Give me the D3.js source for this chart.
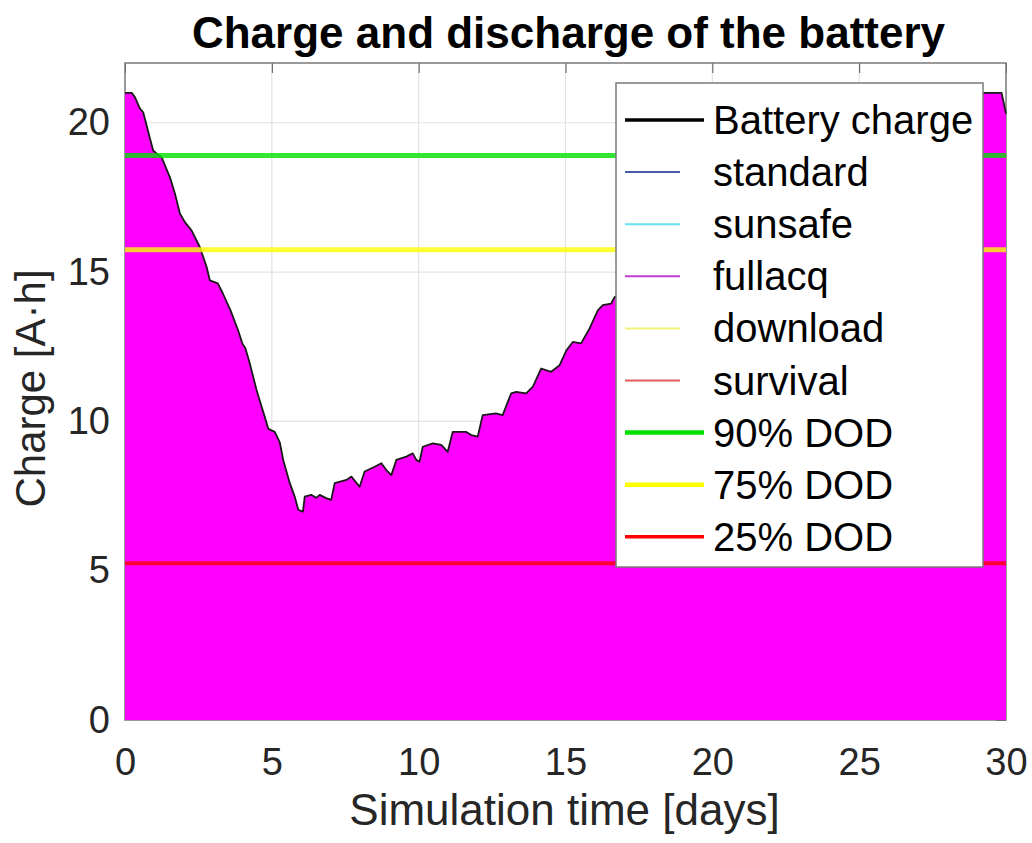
<!DOCTYPE html>
<html>
<head>
<meta charset="utf-8">
<script src="https://cdn.jsdelivr.net/npm/d3@7"></script>
<style>
  body { margin: 0; background: #fff; }
  svg text { font-family: "Liberation Sans", Arial, Helvetica, sans-serif; }
</style>
</head>
<body>
<svg width="1032" height="843"></svg>
<script>
// battery charge (days, A·h)
var days = [0, 0.23, 0.34, 0.51, 0.62, 0.74, 0.85, 0.96, 1.1, 1.25, 1.36, 1.53, 1.7, 1.87, 2.04, 2.27,
  2.55, 2.78, 2.89, 3.16, 3.33, 3.6, 3.85, 4.0, 4.1, 4.25, 4.48, 4.65, 4.76, 4.88, 5.1, 5.27, 5.39,
  5.61, 5.78, 5.9, 6.06, 6.12, 6.34, 6.51, 6.63, 6.85, 7.02, 7.14, 7.54, 7.71, 7.99, 8.16, 8.5, 8.73,
  8.9, 9.07, 9.24, 9.58, 9.8, 9.92, 10.03, 10.14, 10.48, 10.77, 10.99, 11.16, 11.61, 11.79, 12.01,
  12.18, 12.63, 12.86, 13.15, 13.32, 13.66, 13.89, 14.17, 14.51, 14.8, 15.03, 15.25, 15.53, 15.82,
  16.1, 16.27, 16.55, 16.67, 17.0, 17.5, 18.0, 18.5, 19.0, 19.5, 20.0, 20.5, 21.0, 21.5, 22.0, 22.5,
  23.0, 23.5, 24.0, 24.5, 25.0, 29.85, 30.0];
var charge = [21.0, 21.0, 20.85, 20.47, 20.35, 19.9, 19.47, 19.07, 18.95, 18.84, 18.57, 18.17, 17.63,
  16.96, 16.67, 16.39, 15.83, 15.17, 14.72, 14.62, 14.29, 13.7, 13.05, 12.6, 12.45, 11.94, 11.05, 10.5,
  10.15, 9.75, 9.65, 9.3, 8.7, 7.94, 7.48, 7.04, 6.98, 7.48, 7.54, 7.44, 7.54, 7.43, 7.37, 7.93, 8.04,
  8.15, 7.81, 8.32, 8.48, 8.6, 8.37, 8.2, 8.71, 8.82, 8.93, 8.71, 8.65, 9.15, 9.26, 9.21, 8.98, 9.65,
  9.65, 9.54, 9.49, 10.21, 10.27, 10.21, 10.94, 10.99, 10.94, 11.16, 11.77, 11.66, 11.88, 12.38, 12.66,
  12.61, 13.11, 13.72, 13.89, 13.94, 14.16, 14.3, 14.6, 15.1, 15.3, 15.9, 16.2, 16.7, 17.1, 17.6, 17.9,
  18.5, 18.9, 19.4, 19.8, 20.3, 20.6, 21.0, 21.0, 20.3];

var dodNames = ["90% DOD", "75% DOD", "25% DOD"];
var dodLevels = [18.9, 15.75, 5.25];
var modeNames = ["standard", "sunsafe", "fullacq", "download", "survival"];
var xTicks = [0, 5, 10, 15, 20, 25, 30];
var yTicks = [0, 5, 10, 15, 20];

var dodColors = ["#00e000", "#ffff00", "#ff0000"],
    dodWidths = [5, 5, 4],
    modeColors = ["#4a5aa8", "#66e3ef", "#c23bd4", "#f2f27a", "#e35a5a"];

var svg = d3.select("svg"),
    plotLeft = 125, plotRight = 1006, plotTop = 63, plotBottom = 720,
    textColor = "#262626";

var x = d3.scaleLinear().domain([0, 30]).range([plotLeft, plotRight]),
    y = d3.scaleLinear().domain([0, 22]).range([plotBottom, plotTop]);

var series = days.map(function(d, i) { return [d, charge[i]]; });

// grid
svg.append("g").selectAll("line")
    .data(xTicks.slice(1, -1)).enter().append("line")
    .attr("x1", x).attr("x2", x).attr("y1", plotTop).attr("y2", plotBottom)
    .attr("stroke", "#e3e3e3").attr("stroke-width", 1.2);
svg.append("g").selectAll("line")
    .data(yTicks.slice(1)).enter().append("line")
    .attr("x1", plotLeft).attr("x2", plotRight).attr("y1", y).attr("y2", y)
    .attr("stroke", "#e3e3e3").attr("stroke-width", 1.2);

// inward ticks on top and right edges
svg.append("g")
    .attr("transform", "translate(0," + plotTop + ")")
    .call(d3.axisTop(x).tickValues(xTicks).tickSize(-10).tickFormat(""))
    .call(function(g) { g.select(".domain").remove(); })
    .selectAll("line").attr("stroke", "#555");
svg.append("g")
    .attr("transform", "translate(" + plotRight + ",0)")
    .call(d3.axisRight(y).tickValues(yTicks).tickSize(-10).tickFormat(""))
    .call(function(g) { g.select(".domain").remove(); })
    .selectAll("line").attr("stroke", "#555");

svg.append("rect")
    .attr("x", plotLeft).attr("y", plotTop)
    .attr("width", plotRight - plotLeft).attr("height", plotBottom - plotTop)
    .attr("fill", "none").attr("stroke", "#7a7a7a").attr("stroke-width", 1.5);

// battery charge fill + outline
var area = d3.area()
    .x(function(d) { return x(d[0]); })
    .y0(y(0))
    .y1(function(d) { return y(d[1]); });
var line = d3.line()
    .x(function(d) { return x(d[0]); })
    .y(function(d) { return y(d[1]); });

svg.append("path").datum(series)
    .attr("d", area).attr("fill", "#ff00ff");
svg.append("path").datum(series)
    .attr("d", line).attr("fill", "none")
    .attr("stroke", "#1a1a1a").attr("stroke-width", 1.8).attr("stroke-linejoin", "round");

// DOD levels
svg.append("g").selectAll("line")
    .data(dodLevels).enter().append("line")
    .attr("x1", plotLeft).attr("x2", plotRight)
    .attr("y1", y).attr("y2", y)
    .attr("stroke", function(d, i) { return dodColors[i]; })
    .attr("stroke-width", function(d, i) { return dodWidths[i]; })
    .attr("stroke-opacity", 0.8);

// axes labels
var xAxis = svg.append("g")
    .attr("transform", "translate(0," + plotBottom + ")")
    .call(d3.axisBottom(x).tickValues(xTicks).tickSize(0).tickPadding(28));
var yAxis = svg.append("g")
    .attr("transform", "translate(" + plotLeft + ",0)")
    .call(d3.axisLeft(y).tickValues(yTicks).tickSize(0).tickPadding(15));
[xAxis, yAxis].forEach(function(g) {
    g.select(".domain").remove();
    g.selectAll("text")
        .attr("fill", textColor)
        .style("font-size", "38px")
        .style("font-family", "'Liberation Sans', Arial, sans-serif");
});

svg.append("text")
    .attr("x", (plotLeft + plotRight) / 2 + 3).attr("y", 48)
    .attr("text-anchor", "middle")
    .style("font-size", "44px").style("font-weight", "bold")
    .attr("fill", "#000")
    .text("Charge and discharge of the battery");

svg.append("text")
    .attr("x", (plotLeft + plotRight) / 2 - 1).attr("y", 825)
    .attr("text-anchor", "middle")
    .style("font-size", "44px")
    .attr("fill", textColor)
    .text("Simulation time [days]");

svg.append("text")
    .attr("transform", "translate(45," + ((plotTop + plotBottom) / 2 - 3) + ") rotate(-90)")
    .attr("text-anchor", "middle")
    .style("font-size", "42px")
    .attr("fill", textColor)
    .text("Charge [A·h]");

// legend
var legendItems = [{name: "Battery charge", color: "#000", width: 3.5, long: true}]
    .concat(modeNames.map(function(n, i) {
        return {name: n, color: modeColors[i], width: 2, long: false};
    }))
    .concat(dodNames.map(function(n, i) {
        return {name: n, color: dodColors[i], width: dodWidths[i] - 0.5, long: true};
    }));

var legend = svg.append("g");
legend.append("rect")
    .attr("x", 616).attr("y", 83).attr("width", 367).attr("height", 484)
    .attr("fill", "#fff").attr("stroke", "#7a7a7a").attr("stroke-width", 1.5);

var rows = legend.selectAll("g.row")
    .data(legendItems).enter().append("g")
    .attr("class", "row")
    .attr("transform", function(d, i) { return "translate(0," + (120 + i * 52.1) + ")"; });
rows.append("line")
    .attr("x1", 625)
    .attr("x2", function(d) { return d.long ? 704 : 680; })
    .attr("stroke", function(d) { return d.color; })
    .attr("stroke-width", function(d) { return d.width; });
rows.append("text")
    .attr("x", 713).attr("y", 14)
    .style("font-size", "40px")
    .attr("fill", "#000")
    .text(function(d) { return d.name; });
</script>
</body>
</html>
